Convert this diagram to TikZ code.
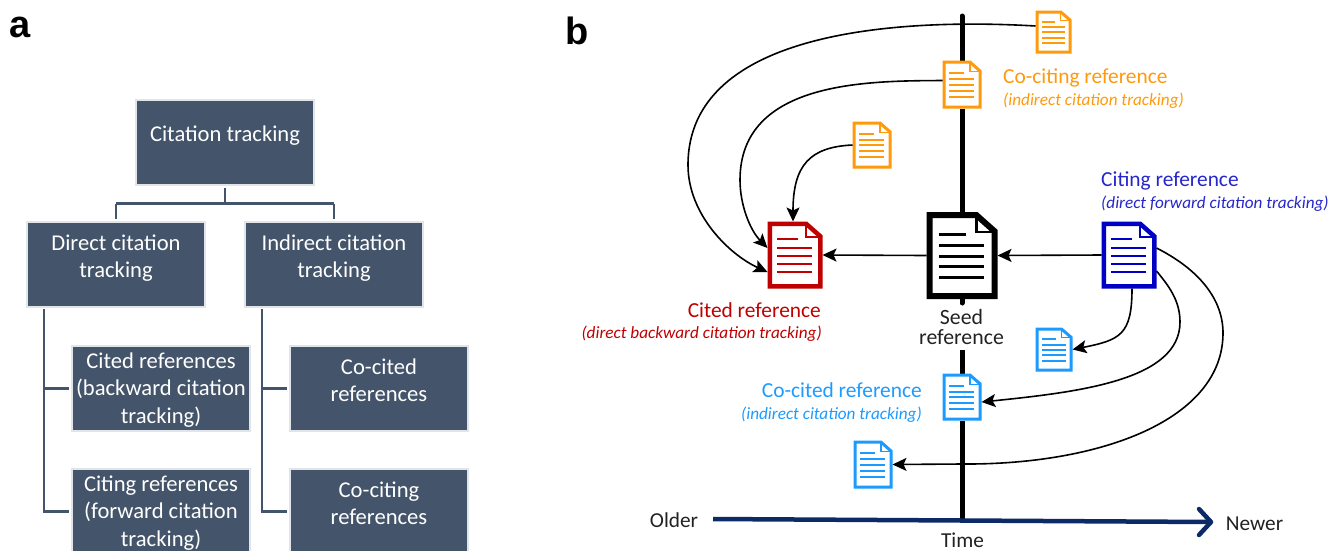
\documentclass[tikz,border=0pt]{standalone}
\usepackage{fontspec}
\setmainfont{Carlito}
\newfontfamily\panelfont{Liberation Sans}
\usetikzlibrary{arrows.meta,calc}
\definecolor{slatebox}{HTML}{44546A}
\definecolor{boxedge}{HTML}{E1E4E8}
\definecolor{orangedoc}{HTML}{FF9A0D}
\definecolor{reddoc}{HTML}{C00000}
\definecolor{bluedoc}{HTML}{0000C4}
\definecolor{skydoc}{HTML}{1C9BFF}
\definecolor{axisblue}{HTML}{0B2A66}
\definecolor{textgrey}{HTML}{222222}
\newcommand\boxlines[2]{\raisebox{#1pt}[0pt][0pt]{\fontsize{22.6}{27.5}\selectfont\begin{tabular}{@{}c@{}}#2\end{tabular}}}
\tikzset{
 citebox/.style={draw=boxedge,line width=2pt,fill=slatebox,text=white,minimum width=178pt,minimum height=85pt,inner sep=0pt},
 treeline/.style={draw=slatebox,line width=2.2pt},
 docframe/.style={inner sep=0pt,outer sep=0pt,fill=white,draw=none},
 citeflow/.style={draw=black,line width=1.6pt,-{Stealth[length=14pt,width=13pt,inset=3pt]}},
 capmain/.style={inner sep=0pt,font=\fontsize{21.4}{24}\selectfont},
 capsub/.style={inner sep=0pt,font=\fontsize{17.2}{20}\selectfont\itshape},
 axislabel/.style={inner sep=0pt,text=textgrey,font=\fontsize{21.3}{24}\selectfont},
 paneltag/.style={inner sep=0pt,font=\panelfont\bfseries\fontsize{38}{40}\selectfont},
}
% name, cx, cy, width, height, colour, line width, rule width
\newcommand\docicon[8]{%
 \node[docframe,minimum width=#4pt,minimum height=#5pt] (#1) at (#2,#3) {};
 \pgfmathsetmacro\dw{#4-#7}\pgfmathsetmacro\dh{#5-#7}\pgfmathsetmacro\ds{#7/2}
 \begin{scope}[shift={([xshift=\ds pt,yshift=-\ds pt]#1.north west)},x=\dw pt,y=-\dh pt]
  \draw[#6,line width=#7pt,miter limit=4] (0,0) -- (.72,0) -- (1,.2) -- (1,1) -- (0,1) -- cycle;
  \draw[#6,line width=.45*#7pt] (.72,0) -- (.72,.21) -- (1,.21);
  \draw[#6,line width=#8pt] (.15,.245) -- (.56,.245);
  \foreach \ry in {.38,.51,.64,.77} {\draw[#6,line width=#8pt] (.15,\ry) -- (.84,\ry);}
 \end{scope}}
\begin{document}
\begin{tikzpicture}[x=1pt,y=-1pt]
\useasboundingbox (0,0) rectangle (1339,550);
% panel a
\node[paneltag,anchor=center] (taga) at (20,27) {a};
\node[paneltag,anchor=center] (tagb) at (577,31) {b};
\node[citebox] (root) at (225,142) {\boxlines{1}{Citation tracking}};
\node[citebox] (direct) at (116,264.5) {\boxlines{1}{Direct citation\\tracking}};
\node[citebox] (indirect) at (334,264.5) {\boxlines{1}{Indirect citation\\tracking}};
\node[citebox] (cited) at (161,388.5) {\boxlines{-7}{Cited references\\(backward citation\\tracking)}};
\node[citebox] (citing) at (161,511.5) {\boxlines{-7}{Citing references\\(forward citation\\tracking)}};
\node[citebox] (cocited) at (379,388.5) {\boxlines{1}{Co-cited\\references}};
\node[citebox] (cociting) at (379,511.5) {\boxlines{1}{Co-citing\\references}};
\coordinate (fork) at (225,203.5);
\draw[treeline] ([yshift=-2pt]root.south) -- (fork);
\draw[treeline] (direct.north |- fork) -- (indirect.north |- fork);
\draw[treeline] ([yshift=2pt]direct.north) -- (direct.north |- fork);
\draw[treeline] ([yshift=2pt]indirect.north) -- (indirect.north |- fork);
\coordinate (dstem) at (44,309);
\coordinate (istem) at (262,309);
\draw[treeline] (dstem) |- ([xshift=-2pt]citing.west);
\draw[treeline] (dstem |- cited.west) -- ([xshift=-2pt]cited.west);
\draw[treeline] (istem) |- ([xshift=-2pt]cociting.west);
\draw[treeline] (istem |- cocited.west) -- ([xshift=-2pt]cocited.west);
% panel b : time lines
\coordinate (ttop) at (962,16);
\coordinate (tgapa) at (962,303);
\coordinate (tgapb) at (962,350);
\coordinate (tbot) at (962,520);
\coordinate (older) at (713,519);
\coordinate (newer) at (1211,522);
\draw[black,line width=5pt,line cap=round] (ttop) -- (tgapa);
\draw[black,line width=5pt] (tgapb) -- (tbot);
\draw[axisblue,line width=4.5pt] (older) -- (newer);
\draw[axisblue,line width=4.5pt,line cap=round,line join=round] (1199,509) -- (newer) -- (1199,535);
\node[axislabel,anchor=center] (lolder) at (674,520) {Older};
\node[axislabel,anchor=center] (lnewer) at (1254.5,524) {Newer};
\node[axislabel,anchor=center] (ltime) at (962.5,540) {Time};
% documents
\docicon{o1}{1053.5}{32}{36}{43}{orangedoc}{3}{2}
\docicon{o2}{962}{84.5}{39}{48}{orangedoc}{3}{2}
\docicon{o3}{872}{145}{39}{47}{orangedoc}{3}{2}
\docicon{red}{795}{255}{55}{67}{reddoc}{4.5}{2}
\docicon{seed}{962}{255.5}{71}{87}{black}{6}{2.8}
\docicon{blue}{1129}{255}{55}{67}{bluedoc}{4.5}{2}
\docicon{s1}{1054}{349.5}{37}{44}{skydoc}{3}{2}
\docicon{s2}{962}{397}{39}{47}{skydoc}{3}{2}
\docicon{s3}{873}{464.5}{39}{48}{skydoc}{3}{2}
% seed label
\node[inner sep=0pt,align=center,text=textgrey,font=\fontsize{21.8}{19.5}\selectfont] (lseed) at (961.5,327) {Seed\\reference};
% connectors
\draw[citeflow] ([yshift=6pt]o1.west) .. controls (900,18) and (688,30) .. (688,165) .. controls (688,215) and (730,255) .. ([yshift=-17pt]red.west);
\draw[citeflow] ([yshift=4pt]o2.west) .. controls (870,81) and (740,80) .. (740,180) .. controls (740,205) and (750,230) .. ([yshift=7pt]red.west);
\draw[citeflow] ([yshift=0pt]o3.west) .. controls (810,147) and (793,165) .. ([xshift=-2pt]red.north);
\draw[citeflow] (seed.west) -- (red.east);
\draw[citeflow] (blue.west) -- (seed.east);
\draw[citeflow] (blue.south) ++(3,0) .. controls (1132,335) and (1120,340) .. (s1.east);
\draw[citeflow] ([yshift=-16pt]blue.east) .. controls (1168,285) and (1180,300) .. (1180,322) .. controls (1180,380) and (1080,392) .. ([yshift=-5pt]s2.east);
\draw[citeflow] ([yshift=7pt]blue.east) .. controls (1200,270) and (1223,300) .. (1223,333) .. controls (1223,420) and (1100,465) .. (962,464) -- (s3.east);
% captions
\node[capmain,text=orangedoc,anchor=west] (lco) at (1003,77.5) {Co-citing reference};
\node[capsub,text=orangedoc,anchor=west] (lcosub) at (1003,100.5) {(indirect citation tracking)};
\node[capmain,text=bluedoc!85!white,anchor=west] (lci) at (1101,180.5) {Citing reference};
\node[capsub,text=bluedoc!85!white,anchor=west] (lcisub) at (1101,203.5) {(direct forward citation tracking)};
\node[capmain,text=reddoc,anchor=east] (lre) at (821,310) {Cited reference};
\node[capsub,text=reddoc,anchor=east] (lresub) at (822,334) {(direct backward citation tracking)};
\node[capmain,text=skydoc,anchor=east] (lsk) at (922,390) {Co-cited reference};
\node[capsub,text=skydoc,anchor=east] (lsksub) at (922,414.5) {(indirect citation tracking)};
\end{tikzpicture}
\end{document}
